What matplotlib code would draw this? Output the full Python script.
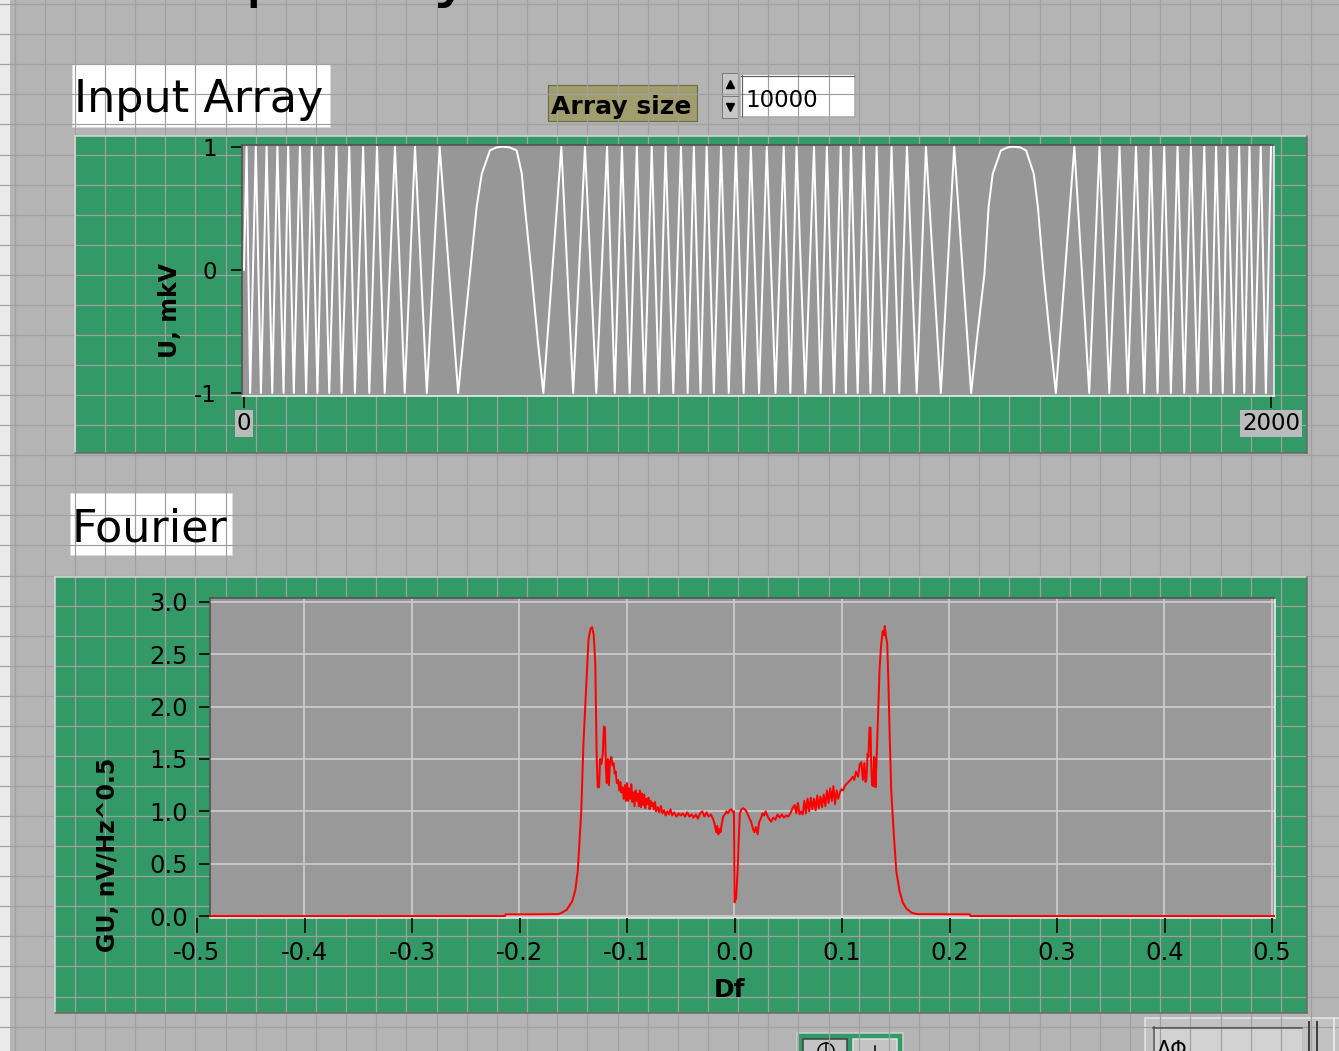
import numpy as np
import matplotlib
matplotlib.use('Agg')
import matplotlib.pyplot as plt
from matplotlib.patches import Rectangle, Circle

plt.rcParams['font.family'] = ['DejaVu Sans']
plt.rcParams['axes.unicode_minus'] = False

# ---------------- data ----------------
# Input Array: sample positions of the maxima / minima
sig_peaks = [5, 23, 44, 65, 86, 109, 132, 154, 180, 205, 232, 259, 294, 333, 381,
             618, 664, 707, 736, 765, 794, 821, 851, 876, 901, 929, 958, 987, 1018,
             1051, 1076, 1110, 1135, 1162, 1182, 1207, 1232, 1261, 1291, 1328, 1383,
             1617, 1666, 1705, 1737, 1766, 1792, 1818, 1844, 1870, 1893, 1915, 1938,
             1958, 1980, 2000]
sig_troughs = [12, 33, 55, 77, 97, 121, 143, 166, 190, 216, 244, 274, 313, 356,
               641, 686, 722, 751, 780, 808, 836, 864, 889, 915, 944, 973, 1003, 1035,
               1064, 1093, 1123, 1149, 1172, 1195, 1220, 1247, 1276, 1310, 1357,
               1646, 1685, 1721, 1753, 1779, 1805, 1831, 1857, 1883, 1906, 1928, 1948,
               1967, 1990]
hump1_idx = [417, 427, 440, 453, 463, 479, 492, 504, 517, 531, 541, 547, 560, 572, 583]
hump2_idx = [1416, 1427, 1442, 1450, 1458, 1474, 1487, 1499, 1511, 1523, 1538, 1546, 1557, 1570, 1581]
hump_val = [-1, -0.57, -0.03, 0.51, 0.78, 0.97, 0.995, 1.0, 0.995, 0.97, 0.78, 0.51, -0.03, -0.57, -1]
sig_start = (0, 0.0)

u_yticks = [-1, 0, 1]
u_xticks = [0, 2000]

# Fourier spectrum (Df, GU)
spec_f = [-0.4879, -0.2135, -0.2130, -0.1900, -0.1640, -0.1610, -0.1560, -0.1510, -0.1480,
          -0.1458, -0.1440, -0.1425, -0.1405, -0.1380, -0.1358, -0.1340, -0.1325, -0.1310,
          -0.1295, -0.1282, -0.1272, -0.1260, -0.1250, -0.1238, -0.1225, -0.1215, -0.1205,
          -0.1196, -0.1188, -0.1178, -0.1168, -0.1158, -0.1146, -0.1135, -0.1125, -0.1115,
          -0.1105, -0.1095, -0.1083, -0.1072, -0.1062, -0.1052, -0.1042,
          -0.1030, -0.1020, -0.1010, -0.1000, -0.0990, -0.0980, -0.0970, -0.0960, -0.0950,
          -0.0940, -0.0930, -0.0920, -0.0910, -0.0900, -0.0890, -0.0880, -0.0870, -0.0860,
          -0.0850, -0.0840, -0.0830, -0.0820, -0.0810, -0.0800, -0.0790, -0.0780, -0.0770,
          -0.0760, -0.0750, -0.0740, -0.0730, -0.0715, -0.0700, -0.0685, -0.0670, -0.0655,
          -0.0640, -0.0625, -0.0610, -0.0595, -0.0580, -0.0560, -0.0540, -0.0520, -0.0500,
          -0.0480, -0.0460, -0.0440, -0.0420, -0.0400, -0.0380, -0.0360, -0.0340, -0.0320,
          -0.0300, -0.0280, -0.0260, -0.0240, -0.0220, -0.0200, -0.0185, -0.0170, -0.0160,
          -0.0150, -0.0140, -0.0130, -0.0120, -0.0105, -0.0090, -0.0075, -0.0060, -0.0045,
          -0.0030, -0.0015, -0.0005, 0.0000,
          0.0015, 0.0030, 0.0040, 0.0050, 0.0065, 0.0080, 0.0095, 0.0110, 0.0125, 0.0140,
          0.0155, 0.0170, 0.0185, 0.0200, 0.0215, 0.0230, 0.0245, 0.0260, 0.0275, 0.0290,
          0.0305, 0.0320, 0.0340, 0.0360, 0.0380, 0.0400, 0.0420, 0.0440, 0.0460, 0.0480,
          0.0500, 0.0520, 0.0540, 0.0560, 0.0575, 0.0590, 0.0605, 0.0620, 0.0635, 0.0650,
          0.0665, 0.0680, 0.0695, 0.0710, 0.0725, 0.0740, 0.0755, 0.0770, 0.0785, 0.0800,
          0.0815, 0.0830, 0.0845, 0.0860, 0.0875, 0.0890, 0.0905, 0.0920, 0.0935, 0.0950,
          0.0965, 0.0980, 0.0995, 0.1010, 0.1025, 0.1040, 0.1060, 0.1080,
          0.1100, 0.1114, 0.1130, 0.1150, 0.1165, 0.1180, 0.1195, 0.1208, 0.1218, 0.1227,
          0.1238, 0.1246, 0.1256, 0.1265, 0.1272, 0.1280, 0.1290, 0.1298, 0.1305, 0.1312,
          0.1322, 0.1338, 0.1350, 0.1365, 0.1379, 0.1390, 0.1398, 0.1410, 0.1420, 0.1430,
          0.1443, 0.1458, 0.1482, 0.1505, 0.1535, 0.1565, 0.1600, 0.1650, 0.1700, 0.2190,
          0.2195, 0.5028]
spec_v = [0.0, 0.0, 0.016, 0.016, 0.018, 0.03, 0.06, 0.14, 0.25,
          0.43, 0.74, 1.01, 1.65, 2.18, 2.64, 2.74, 2.76, 2.69,
          2.41, 1.52, 1.23, 1.23, 1.50, 1.45, 1.55, 1.81, 1.80,
          1.40, 1.27, 1.50, 1.25, 1.48, 1.52, 1.44, 1.46, 1.36,
          1.38, 1.27, 1.30, 1.20, 1.28, 1.18, 1.23,
          1.12, 1.25, 1.10, 1.27, 1.10, 1.22, 1.12, 1.26, 1.09,
          1.18, 1.05, 1.20, 1.10, 1.17, 1.05, 1.20, 1.04, 1.17,
          1.06, 1.16, 1.03, 1.12, 1.07, 1.13, 1.02, 1.10, 1.05,
          1.08, 1.02, 1.09, 1.00, 1.04, 0.99, 1.05, 0.98, 1.01,
          0.96, 1.00, 0.97, 1.02, 0.96, 0.99, 0.95, 0.98, 0.96,
          0.98, 0.95, 0.99, 0.95, 0.97, 0.94, 0.97, 0.93, 0.98,
          1.00, 0.95, 0.99, 0.95, 0.97, 0.93, 0.88, 0.80, 0.86,
          0.78, 0.83, 0.80, 0.87, 0.95, 0.97, 1.00, 0.98, 1.01,
          1.02, 0.99, 1.00, 0.13,
          0.17, 0.45, 0.75, 0.98, 1.02, 1.03, 1.02, 1.00, 0.97, 0.93,
          0.90, 0.84, 0.80, 0.85, 0.78, 0.90, 0.93, 0.98, 0.96, 1.00,
          0.96, 0.93, 0.90, 0.94, 0.92, 0.97, 0.94, 0.97, 0.94, 0.96,
          0.95, 0.98, 1.03, 1.06, 0.98, 1.08, 0.97, 1.00, 0.97, 1.10,
          0.98, 1.12, 1.00, 1.13, 1.02, 1.12, 1.01, 1.15, 1.03, 1.14,
          1.04, 1.16, 1.05, 1.20, 1.08, 1.22, 1.10, 1.24, 1.07, 1.20,
          1.12, 1.18, 1.21, 1.20, 1.24, 1.26, 1.28, 1.30,
          1.33, 1.30, 1.38, 1.33, 1.45, 1.47, 1.30, 1.46, 1.28, 1.30,
          1.55, 1.52, 1.80, 1.80, 1.45, 1.25, 1.24, 1.52, 1.50, 1.23,
          1.50, 2.00, 2.37, 2.60, 2.72, 2.68, 2.77, 2.66, 2.61, 2.31,
          1.75, 1.20, 0.78, 0.43, 0.24, 0.13, 0.07, 0.03, 0.018, 0.016,
          0.0, 0.0]

f_ticks = [-0.5, -0.4, -0.3, -0.2, -0.1, 0.0, 0.1, 0.2, 0.3, 0.4, 0.5]
f_tick_labels = ['-0.5', '-0.4', '-0.3', '-0.2', '-0.1', '0.0', '0.1', '0.2', '0.3', '0.4', '0.5']
g_ticks = [0.0, 0.5, 1.0, 1.5, 2.0, 2.5, 3.0]
g_tick_labels = ['0.0', '0.5', '1.0', '1.5', '2.0', '2.5', '3.0']

array_size = '10000'

# ---------------- layout ----------------
W, H = 1339, 1051
fig = plt.figure(figsize=(W / 100, H / 100), dpi=100)


def frac(x0, y0, x1, y1):
    return [x0 / W, 1 - y1 / H, (x1 - x0) / W, (y1 - y0) / H]


PX = 0.72  # one pixel in points
GREEN = '#339966'
PANEL = '#B4B4B4'

bg = fig.add_axes([0, 0, 1, 1])
bg.set_xlim(0, W)
bg.set_ylim(H, 0)
bg.axis('off')
bg.add_patch(Rectangle((0, 0), W, H, fc=PANEL, ec='none'))
for gx in np.arange(14.5, W, 30.15):
    bg.plot([gx, gx], [0, H], color='#A0A0A0', lw=1.2 * PX)
for gy in np.arange(4.2, H, 30.07):
    bg.plot([0, W], [gy, gy], color='#A0A0A0', lw=1.2 * PX)
bg.add_patch(Rectangle((0, 0), 10, H, fc='#EAEAEA', ec='none'))

# cut-off heading at the top (only descenders visible in the reference)
bg.text(114, -5.5, 'Frequency', fontsize=50, va='baseline', ha='left', color='black')


def frame(x0, y0, x1, y1, fc):
    bg.add_patch(Rectangle((x0, y0), x1 - x0, y1 - y0, fc=fc, ec='none'))
    bg.plot([x0, x1], [y0, y0], color='#D8D8D8', lw=1.5 * PX)
    bg.plot([x0, x0], [y0, y1], color='#D8D8D8', lw=1.5 * PX)
    bg.plot([x0, x1], [y1, y1], color='#6A6A6A', lw=1.5 * PX)
    bg.plot([x1, x1], [y0, y1], color='#6A6A6A', lw=1.5 * PX)


frame(75, 136, 1307, 453, GREEN)
frame(55, 577, 1307, 1013, GREEN)

# label boxes
bg.add_patch(Rectangle((72, 64), 258, 63, fc='white', ec='#DADADA', lw=1 * PX))
bg.text(74, 112, 'Input Array', fontsize=32, va='baseline', ha='left', color='black')
bg.add_patch(Rectangle((70, 493), 162, 62, fc='white', ec='#DADADA', lw=1 * PX))
bg.text(72, 541, 'Fourier', fontsize=32, va='baseline', ha='left', color='black')

bg.add_patch(Rectangle((548, 85), 149, 36, fc='#A09E6C', ec='#6C6C48', lw=1.2 * PX))
bg.text(551, 114, 'Array size', fontsize=18, fontweight='bold', va='baseline', ha='left', color='black')

# numeric control
bg.add_patch(Rectangle((722, 73), 16, 45, fc='#C6C6C6', ec='#7A7A7A', lw=1 * PX))
bg.plot([722, 738], [95.5, 95.5], color='#7A7A7A', lw=1 * PX)
bg.plot([730], [84], marker='^', color='black', ms=6)
bg.plot([730], [107], marker='v', color='black', ms=6)
bg.add_patch(Rectangle((740, 74), 115, 43, fc='white', ec='#A8A8A8', lw=1.5 * PX))
bg.plot([741, 854], [75.5, 75.5], color='#606060', lw=1.2 * PX)
bg.plot([741.5, 741.5], [75, 116], color='#606060', lw=1.2 * PX)
bg.text(745, 107, array_size, fontsize=16.5, va='baseline', ha='left', color='black')

# y labels and x label
bg.text(170, 310, 'U, mkV', fontsize=17, fontweight='bold', rotation=90, ha='center', va='center')
bg.text(108, 855, 'GU, nV/Hz^0.5', fontsize=17, fontweight='bold', rotation=90, ha='center', va='center')
bg.text(730, 990, 'Df', fontsize=18, fontweight='bold', ha='center', va='center')

# bottom widgets (partly visible)
bg.add_patch(Rectangle((797, 1033), 106, 30, fc=GREEN, ec='#D0D0D0', lw=1.5 * PX))
bg.add_patch(Rectangle((803, 1039), 44, 20, fc='#C4C4C4', ec='#404040', lw=1.5 * PX))
bg.add_patch(Rectangle((853, 1039), 44, 20, fc='#C4C4C4', ec='#E0E0E0', lw=1.5 * PX))
bg.add_patch(Circle((826, 1051), 8, fc='none', ec='black', lw=1.5 * PX))
bg.plot([826, 826], [1043, 1051], color='black', lw=1.5 * PX)
bg.plot([875, 875], [1046, 1051], color='black', lw=1.5 * PX)
bg.add_patch(Rectangle((1145, 1018), 200, 40, fc='#C2C2C2', ec='#E6E6E6', lw=1.5 * PX))
bg.add_patch(Rectangle((1153, 1027), 149, 30, fc='#D2D2D2', ec='none'))
bg.plot([1153, 1302], [1027.5, 1027.5], color='#505050', lw=1.5 * PX)
bg.plot([1153.5, 1153.5], [1027, 1051], color='#505050', lw=1.5 * PX)
bg.text(1157, 1056, 'ΔΦ', fontsize=15, va='baseline', ha='left', color='black')
bg.plot([1309, 1309], [1022, 1051], color='#404040', lw=2 * PX)
bg.plot([1317, 1317], [1022, 1051], color='#404040', lw=2 * PX)
bg.plot([1334, 1334], [1018, 1051], color='#E6E6E6', lw=2 * PX)


def style_area(ax):
    ax.spines['top'].set_color('#505050')
    ax.spines['left'].set_color('#505050')
    ax.spines['bottom'].set_color('#EEEEEE')
    ax.spines['right'].set_color('#EEEEEE')
    for s in ax.spines.values():
        s.set_linewidth(1.6 * PX)


# ---------------- upper graph ----------------
ax1 = fig.add_axes(frac(242, 145, 1274, 396))
ax1.set_facecolor('#979797')
pts = [sig_start] + [(p, 1.0) for p in sig_peaks] + [(t, -1.0) for t in sig_troughs]
pts += list(zip(hump1_idx, hump_val)) + list(zip(hump2_idx, hump_val))
pts.sort(key=lambda q: q[0])
ax1.plot([q[0] for q in pts], [q[1] for q in pts], color='white', lw=2.0 * PX)
ax1.set_yticks(u_yticks)
ax1.set_yticklabels([str(v) for v in u_yticks])
ax1.set_xticks(u_xticks)
ax1.set_xticklabels([str(v) for v in u_xticks])
ax1.set_xlim(-3.9, 2005.8)
ax1.set_ylim(-1.024, 1.014)
ax1.tick_params(axis='y', direction='out', length=11 * PX, width=1.6 * PX, pad=10, labelsize=16.5)
ax1.tick_params(axis='x', direction='out', length=12 * PX, width=1.6 * PX, pad=3, labelsize=16.5)
for lbl in ax1.get_xticklabels():
    lbl.set_bbox(dict(facecolor='#BBBBBB', edgecolor='none', pad=1.5))
style_area(ax1)

# ---------------- lower graph ----------------
ax2 = fig.add_axes(frac(210, 598, 1275, 918))
ax2.set_facecolor('#999999')
ax2.set_xticks(f_ticks)
ax2.set_xticklabels([])
ax2.tick_params(axis='x', length=0)
ax2.set_yticks(g_ticks)
ax2.set_yticklabels(g_tick_labels)
ax2.set_xlim(-0.4879, 0.5028)
ax2.set_ylim(-0.019, 3.038)
ax2.tick_params(axis='y', direction='out', length=11 * PX, width=1.6 * PX, pad=8, labelsize=17.5)
ax2.grid(True, color='#CACACA', lw=1.8 * PX)
ax2.set_axisbelow(True)
ax2.plot(spec_f, spec_v, color='#FF0000', lw=2.0 * PX, zorder=3)
style_area(ax2)

ax3 = fig.add_axes(frac(197, 598, 1272, 918))
ax3.patch.set_visible(False)
for s in ax3.spines.values():
    s.set_visible(False)
ax3.set_xticks(f_ticks)
ax3.set_xticklabels(f_tick_labels)
ax3.set_yticks([])
ax3.set_xlim(-0.5, 0.5)
ax3.set_ylim(0, 1)
ax3.tick_params(axis='x', direction='out', length=15 * PX, width=1.6 * PX, pad=6, labelsize=17.5)

fig.savefig('out.png', dpi=100)
